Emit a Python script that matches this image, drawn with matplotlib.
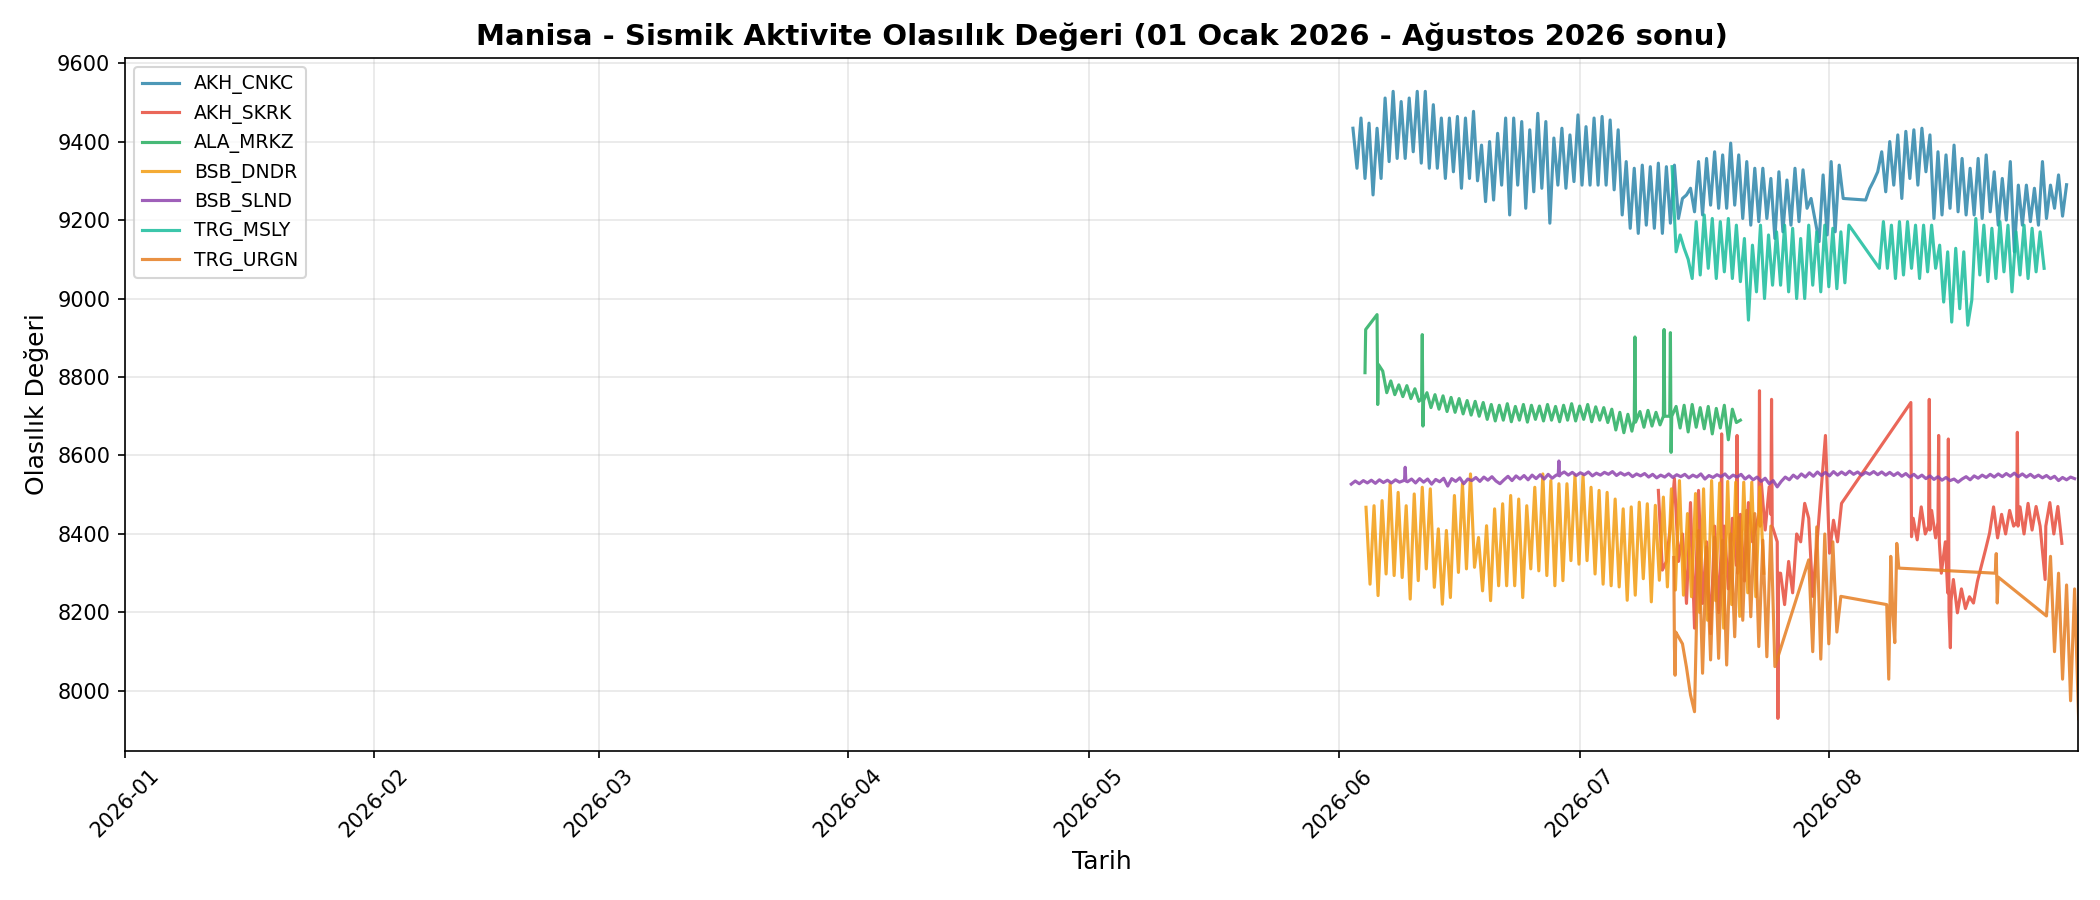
import matplotlib
matplotlib.use("Agg")
import matplotlib.pyplot as plt
import matplotlib.dates as mdates
import pandas as pd
from datetime import datetime

# ---- data: each series = list of (segment start, step in hours, values) ----
AKH_CNKC = [
    ("2026-06-02 19:00", 12, [
        9434, 9332, 9460, 9306, 9447, 9264, 9434, 9306, 9511, 9349, 9528, 9357, 9502, 9357,
        9511, 9374, 9528, 9345, 9528, 9332, 9494, 9332, 9460, 9306, 9460, 9323, 9464, 9281,
        9460, 9306, 9477, 9300, 9391, 9247, 9400, 9251, 9421, 9289, 9460, 9213, 9460, 9289,
        9451, 9230, 9430, 9272, 9472, 9281, 9451, 9192, 9409, 9289, 9434, 9281, 9417, 9298,
        9468, 9289, 9438, 9289, 9460, 9289, 9464, 9289, 9455, 9277, 9430, 9213, 9349, 9179,
        9332, 9166, 9340, 9187, 9336, 9179, 9345, 9166, 9336, 9192, 9340, 9204]),
    ("2026-07-13 19:00", 12, [
        9255, 9264, 9281, 9221, 9349, 9213, 9357, 9238, 9374, 9230, 9366, 9230, 9396, 9238,
        9366, 9204, 9349, 9187, 9332, 9196, 9332, 9204, 9306, 9153, 9323, 9170, 9302, 9187,
        9332, 9196, 9328, 9230, 9255, 9200, 9145, 9315, 9162, 9349, 9170, 9340, 9255]),
    ("2026-08-05 14:00", 12, [
        9251, 9280, 9300, 9323, 9374, 9272, 9400, 9289, 9417, 9255, 9426, 9306, 9430, 9289,
        9434, 9323, 9417, 9204, 9374, 9213, 9366, 9230, 9391, 9221, 9357, 9213, 9332, 9213,
        9357, 9204, 9366, 9221, 9323, 9187, 9306, 9200, 9349, 9119, 9289, 9187, 9289, 9196,
        9281, 9187, 9349, 9204, 9289, 9230, 9315, 9210, 9290]),
]

AKH_SKRK = [
    ("2026-07-10 19:00", 12, [8511, 8308, 8330, 8420, 8541, 8330, 8400, 8223, 8480]),
    ("2026-07-15 07:00", 12, [8160, 8511, 8223, 8380, 8146, 8420, 8200]),
    ("2026-07-18 14:00", 2, [8350, 8655, 8300]),
    ("2026-07-19 00:00", 12, [8420, 8260, 8440]),
    ("2026-07-20 12:00", 2, [8320, 8651, 8300]),
    ("2026-07-21 00:00", 12, [8450, 8280, 8480, 8380]),
    ("2026-07-23 07:00", 2, [8450, 8765, 8420]),
    ("2026-07-23 14:00", 12, [8536, 8410, 8520]),
    ("2026-07-24 19:00", 2, [8450, 8743, 8420]),
    ("2026-07-25 14:00", 2, [8380, 7930, 8300]),
    ("2026-07-26 00:00", 12, [8300, 8220, 8330, 8250, 8400, 8380, 8478, 8440, 8241]),
    ("2026-07-31 14:00", 12, [8651, 8351, 8435, 8380, 8478]),
    ("2026-08-11 05:00", 2, [8735, 8393]),
    ("2026-08-11 12:00", 12, [8440, 8385, 8469, 8400]),
    ("2026-08-13 10:00", 2, [8420, 8743, 8410]),
    ("2026-08-13 19:00", 12, [8460, 8390]),
    ("2026-08-14 14:00", 2, [8430, 8651, 8380]),
    ("2026-08-15 00:00", 12, [8300, 8380]),
    ("2026-08-15 19:00", 2, [8250, 8642, 8200]),
    ("2026-08-16 03:00", 2, [8110, 8230]),
    ("2026-08-16 12:00", 12, [8284, 8199, 8260, 8210, 8240, 8224, 8280, 8320, 8360, 8402,
                              8469, 8390, 8450, 8400, 8460, 8420]),
    ("2026-08-24 09:00", 2, [8430, 8659, 8420]),
    ("2026-08-24 19:00", 12, [8469, 8400, 8478, 8410, 8470, 8420]),
    ("2026-08-27 22:00", 2, [8284, 8420]),
    ("2026-08-28 12:00", 12, [8480, 8400, 8470, 8376]),
]

ALA_MRKZ = [
    ("2026-06-04 07:00", 2, [8811, 8921]),
    ("2026-06-05 19:00", 2, [8959, 8730, 8832]),
    ("2026-06-06 12:00", 12, [8815, 8760, 8790, 8755, 8780, 8750, 8778, 8745, 8770, 8738]),
    ("2026-06-11 08:00", 2, [8745, 8908, 8675, 8740]),
    ("2026-06-12 00:00", 12, [
        8760, 8722, 8755, 8718, 8752, 8712, 8748, 8710, 8745, 8706, 8740, 8703, 8738, 8700,
        8735, 8692, 8730, 8688, 8728, 8690, 8732, 8686, 8725, 8690, 8730, 8685, 8728, 8692,
        8726, 8688, 8730, 8690, 8725, 8686, 8728, 8690, 8732, 8688, 8726, 8692, 8730, 8686,
        8724, 8690, 8722, 8684, 8718, 8665, 8710, 8658, 8705, 8662]),
    ("2026-07-07 19:00", 2, [8690, 8902, 8685]),
    ("2026-07-08 12:00", 12, [8712, 8672, 8715, 8675, 8710, 8678]),
    ("2026-07-11 10:00", 2, [8700, 8921, 8700]),
    ("2026-07-12 05:00", 2, [8700, 8913, 8608, 8700]),
    ("2026-07-13 00:00", 12, [8725, 8670, 8728, 8660, 8730, 8672, 8722, 8668, 8725, 8655,
                              8720, 8670, 8728, 8640, 8718, 8684, 8690]),
]

BSB_DNDR = [
    ("2026-06-04 10:00", 12, [
        8468, 8272, 8472, 8243, 8485, 8298, 8528, 8294, 8506, 8289, 8472, 8234, 8502, 8281,
        8519, 8311, 8515, 8264, 8413, 8221, 8409, 8238, 8498, 8302, 8528, 8311, 8553, 8315,
        8391, 8255, 8421, 8230, 8464, 8268, 8477, 8268, 8498, 8268, 8489, 8238, 8472, 8311,
        8519, 8306, 8553, 8294, 8536, 8268, 8528, 8281, 8528, 8332, 8549, 8323, 8549, 8332,
        8519, 8298, 8511, 8272, 8506, 8268, 8489, 8265, 8464, 8231, 8469, 8244, 8481, 8286,
        8477, 8227, 8473, 8282, 8494, 8265, 8515, 8257, 8536, 8244, 8452, 8240, 8503, 8200,
        8515, 8180, 8536, 8230, 8530, 8160, 8534, 8220, 8532, 8190, 8532, 8250, 8532, 8240,
        8520, 8300]),
]

BSB_SLND = [
    ("2026-06-02 14:00", 12, [8527, 8535, 8528, 8536, 8530, 8537, 8529, 8538, 8531, 8537,
                              8530, 8538, 8532, 8536]),
    ("2026-06-09 05:00", 2, [8538, 8570, 8535]),
    ("2026-06-09 14:00", 12, [
        8533, 8540, 8530, 8541, 8532, 8540, 8527, 8539, 8533, 8542, 8522, 8541, 8534, 8543,
        8528, 8540, 8536, 8544, 8534, 8545, 8537, 8546, 8535, 8528, 8538, 8547, 8536, 8548,
        8540, 8549, 8538, 8550, 8541, 8551, 8540, 8552, 8542, 8550]),
    ("2026-06-28 08:00", 2, [8550, 8586, 8548]),
    ("2026-06-28 14:00", 12, [
        8552, 8558, 8550, 8557, 8549, 8556, 8551, 8558, 8548, 8555, 8550, 8557, 8552, 8559,
        8549, 8556, 8550, 8555, 8546, 8553, 8548, 8554, 8545,
        8552, 8543, 8550, 8545, 8553, 8544, 8551, 8546, 8552, 8543, 8550, 8545, 8553, 8540,
        8549, 8544, 8551, 8546, 8553, 8542, 8550, 8545, 8552, 8540, 8548, 8538, 8545, 8534,
        8542, 8528, 8536, 8520,
        8534, 8545, 8538, 8550, 8542, 8553, 8545, 8556, 8547, 8558, 8549, 8557, 8548, 8559,
        8550, 8558, 8551, 8560, 8552, 8558, 8550, 8557, 8552, 8559, 8551, 8558, 8550, 8557,
        8549, 8556, 8547, 8554, 8545, 8552, 8543, 8550, 8541, 8548, 8539, 8546, 8537, 8544,
        8536, 8540, 8532,
        8540, 8546, 8538, 8548, 8542, 8550, 8544, 8552, 8545, 8553, 8546, 8554, 8547, 8555,
        8546, 8553, 8545, 8552, 8544, 8550, 8543, 8549, 8541, 8547, 8536, 8544, 8538, 8545,
        8541]),
]

TRG_MSLY = [
    ("2026-07-12 12:00", 12, [
        9336, 9119, 9162, 9128, 9100, 9051, 9196, 9060, 9213, 9077, 9204, 9051, 9196, 9068,
        9204, 9051, 9187, 9043, 9153, 8945, 9136, 9017, 9187, 9000, 9162, 9034, 9170, 9034,
        9187, 9017, 9179, 9000, 9153, 9000, 9187, 9034, 9170, 9017, 9187, 9030, 9179, 9025,
        9170, 9040, 9187]),
    ("2026-08-07 07:00", 12, [
        9077, 9196, 9077, 9187, 9051, 9196, 9060, 9196, 9077, 9187, 9051, 9187, 9068, 9187,
        9077, 9136, 8991, 9119, 8940, 9128, 8974, 9119, 8932, 8996, 9204, 9060, 9187, 9043,
        9179, 9051, 9196, 9068, 9187, 9017, 9170, 9060, 9187, 9051, 9179, 9068, 9170, 9077]),
]

TRG_URGN = [
    ("2026-07-12 17:00", 2, [8340, 8113, 8040, 8150]),
    ("2026-07-13 07:00", 12, [
        8138, 8120, 8060, 7990, 7947, 8409, 8045, 8367, 8079, 8392, 8083, 8384, 8066, 8400,
        8138, 8443, 8180, 8460, 8189, 8452, 8113, 8384, 8087, 8420, 8062]),
    ("2026-07-29 12:00", 12, [8334, 8100, 8418, 8081, 8400, 8120, 8380, 8150, 8241]),
    ("2026-08-08 05:00", 6, [8220, 8030, 8343, 8200, 8123, 8376, 8313]),
    ("2026-08-21 17:00", 3, [8300, 8350, 8224, 8290]),
    ("2026-08-28 02:00", 12, [8191, 8343, 8100, 8300, 8030, 8270, 7975, 8260, 7929]),
]

series_names = ["AKH_CNKC", "AKH_SKRK", "ALA_MRKZ", "BSB_DNDR", "BSB_SLND", "TRG_MSLY", "TRG_URGN"]
series_data = [AKH_CNKC, AKH_SKRK, ALA_MRKZ, BSB_DNDR, BSB_SLND, TRG_MSLY, TRG_URGN]
colors = ["#2E86AB", "#E74C3C", "#27AE60", "#F39C12", "#8E44AD", "#1ABC9C", "#E67E22"]


def build(segments):
    times, vals = [], []
    for start, step, values in segments:
        t = pd.date_range(start=start, periods=len(values), freq=f"{step}h")
        times.extend(t)
        vals.extend(values)
    return times, vals


fig = plt.figure(figsize=(14, 6), dpi=150)
ax = fig.add_axes([0.0595, 0.1656, 0.93, 0.7704])

for name, segs, c in zip(series_names, series_data, colors):
    t, v = build(segs)
    ax.plot(t, v, color=c, linewidth=1.5, alpha=0.85, label=name)

ax.set_xlim(datetime(2026, 1, 1), datetime(2026, 8, 31, 23, 59))
ax.set_ylim(7847, 9614)
ax.xaxis.set_major_locator(mdates.MonthLocator())
ax.xaxis.set_major_formatter(mdates.DateFormatter("%Y-%m"))
plt.setp(ax.get_xticklabels(), rotation=45, ha="right", rotation_mode="anchor")
for lab in ax.get_xticklabels():
    lab.set_rotation(45)
    lab.set_ha("center")
    lab.set_rotation_mode("default")

ax.grid(True, alpha=0.3)
ax.set_title("Manisa - Sismik Aktivite Olasılık Değeri (01 Ocak 2026 - Ağustos 2026 sonu)",
             fontsize=14, fontweight="bold")
ax.set_xlabel("Tarih", fontsize=12)
ax.set_ylabel("Olasılık Değeri", fontsize=12)
ax.legend(loc="upper left", fontsize=9)

fig.savefig("out.png", dpi=150)
